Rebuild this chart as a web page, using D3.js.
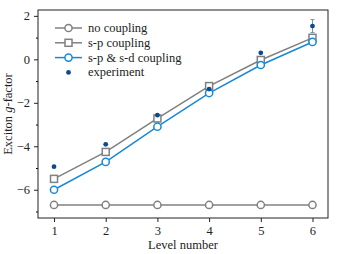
<!DOCTYPE html>
<html>
<head>
<meta charset="utf-8">
<script src="https://cdn.jsdelivr.net/npm/d3@7"></script>
<style>
  body { margin: 0; background: #fff; }
  svg text { font-family: "Liberation Serif", "Times New Roman", Times, serif !important; fill: #222; }
</style>
</head>
<body>
<div id="chart"><svg></svg></div>
<script>
const levels = [1, 2, 3, 4, 5, 6];
const noCoupling = [-6.7, -6.7, -6.7, -6.7, -6.7, -6.7];
const spCoupling = [-5.5, -4.26, -2.72, -1.23, -0.03, 0.99];
const spsdCoupling = [-6.0, -4.72, -3.1, -1.55, -0.26, 0.8];
const experiment = [-4.94, -3.91, -2.57, -1.37, 0.3, 1.53];
const expError = [0, 0, 0, 0, 0, 0.3];
const yTicks = [-6, -4, -2, 0, 2];
const yMinor = [-7, -5, -3, -1, 1];

const w = 339, h = 254;
const margin = {left: 38, right: 11, top: 10, bottom: 36};

const grey = "#808080";
const blue = "#1689d8";
const dark = "#0c4a8a";
const fontSize = 12.5;

let svg = d3.select("#chart").select("svg")
	.attr("width", w)
	.attr("height", h);

let x = d3.scaleLinear()
	.domain([0.69, 6.3])
	.range([margin.left, w - margin.right]);

let y = d3.scaleLinear()
	.domain([-7.3, 2.27])
	.range([h - margin.bottom, margin.top]);

/* axes */
let xAxis = d3.axisBottom(x).tickValues(levels).tickSize(4).tickPadding(4).tickFormat(d3.format("d"));
let yAxis = d3.axisLeft(y).tickValues(yTicks).tickSize(4).tickPadding(4).tickFormat(d=>d < 0 ? "\u2212" + Math.abs(d) : d);

let gx = svg.append("g")
	.attr("transform", `translate(0,${h - margin.bottom})`)
	.call(xAxis);
let gy = svg.append("g")
	.attr("transform", `translate(${margin.left},0)`)
	.call(yAxis);

svg.append("g")
	.attr("transform", `translate(${margin.left},0)`)
	.call(d3.axisLeft(y).tickValues(yMinor).tickSize(2).tickFormat(""))
	.select(".domain").remove();

[gx, gy].forEach(g=>{
	g.select(".domain").remove();
	g.selectAll("line").attr("stroke", "#222");
	g.selectAll("text").attr("font-size", fontSize).attr("fill", "#222");
});

svg.append("rect")
	.attr("x", margin.left)
	.attr("y", margin.top)
	.attr("width", w - margin.left - margin.right)
	.attr("height", h - margin.top - margin.bottom)
	.attr("fill", "none")
	.attr("stroke", "#222")
	.attr("stroke-width", 1);

svg.append("text")
	.attr("x", (margin.left + w - margin.right) / 2)
	.attr("y", h - 5)
	.attr("text-anchor", "middle")
	.attr("font-size", fontSize)
	.text("Level number");

let ylab = svg.append("text")
	.attr("transform", `translate(12,${(margin.top + h - margin.bottom) / 2}) rotate(-90)`)
	.attr("text-anchor", "middle")
	.attr("font-size", fontSize);
ylab.append("tspan").text("Exciton ");
ylab.append("tspan").attr("font-style", "italic").text("g");
ylab.append("tspan").text("-factor");

/* series */
let line = d3.line().x((d,i)=>x(levels[i])).y(d=>y(d));

const series = [
	{name: "no coupling", values: noCoupling, color: grey, marker: "circle"},
	{name: "s-p coupling", values: spCoupling, color: grey, marker: "square"},
	{name: "s-p & s-d coupling", values: spsdCoupling, color: blue, marker: "circle"}
];

function drawMarker(g, type, color, cx, cy){
	if(type === "circle"){
		g.append("circle").attr("cx", cx).attr("cy", cy).attr("r", 3.6)
			.attr("fill", "#fff").attr("stroke", color).attr("stroke-width", 1.5);
	} else {
		g.append("rect").attr("x", cx - 3.5).attr("y", cy - 3.5).attr("width", 7).attr("height", 7)
			.attr("fill", "#fff").attr("stroke", color).attr("stroke-width", 1.5);
	}
}

let plot = svg.append("g");
series.forEach(s=>{
	plot.append("path")
		.attr("d", line(s.values))
		.attr("fill", "none")
		.attr("stroke", s.color)
		.attr("stroke-width", 1.5);
	s.values.forEach((v,i)=>drawMarker(plot, s.marker, s.color, x(levels[i]), y(v)));
});

experiment.forEach((v,i)=>{
	if(expError[i] > 0){
		let cx = x(levels[i]);
		plot.append("line").attr("x1", cx).attr("x2", cx)
			.attr("y1", y(v - expError[i])).attr("y2", y(v + expError[i]))
			.attr("stroke", "#6f8fb0").attr("stroke-width", 1);
		[v - expError[i], v + expError[i]].forEach(e=>{
			plot.append("line").attr("x1", cx - 2).attr("x2", cx + 2)
				.attr("y1", y(e)).attr("y2", y(e))
				.attr("stroke", "#6f8fb0").attr("stroke-width", 1);
		});
	}
	plot.append("circle").attr("cx", x(levels[i])).attr("cy", y(v)).attr("r", 2.4).attr("fill", dark);
});

/* legend */
let legend = svg.append("g").attr("transform", "translate(55,28)");
series.forEach((s,i)=>{
	let gy0 = i * 14.8;
	legend.append("line").attr("x1", 0).attr("x2", 27).attr("y1", gy0).attr("y2", gy0)
		.attr("stroke", s.color).attr("stroke-width", 1.5);
	drawMarker(legend, s.marker, s.color, 13.5, gy0);
	legend.append("text").attr("x", 33).attr("y", gy0 + 4).attr("font-size", fontSize).text(s.name);
});
legend.append("circle").attr("cx", 13.5).attr("cy", 44.4).attr("r", 2.4).attr("fill", dark);
legend.append("text").attr("x", 33).attr("y", 48.4).attr("font-size", fontSize).text("experiment");
</script>
</body>
</html>
